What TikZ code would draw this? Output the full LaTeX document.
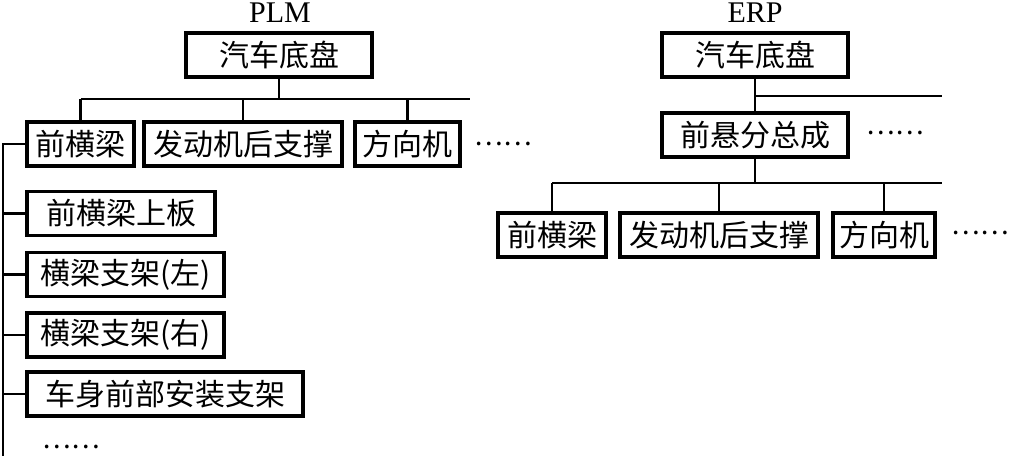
\documentclass[tikz,border=0pt]{standalone}
\usepackage{fontspec}
\setmainfont{Liberation Serif}
\newfontfamily\cjk{Noto Sans CJK SC}
\begin{document}
\begin{tikzpicture}[x=1pt,y=-1pt,
 bx/.style={draw, line width=3.4pt, inner sep=0pt, minimum height=44pt, font=\cjk\fontsize{30}{31}\selectfont},
 dots/.style={inner sep=0pt, font=\cjk\fontsize{27}{27}\selectfont},
 ttl/.style={inner sep=0pt, anchor=base, font=\fontsize{30}{30}\selectfont},
 ln/.style={line width=2.2pt}]
\fill[white] (0,0) rectangle (1009,456);
\useasboundingbox (0,0) rectangle (1009,456);
% PLM side
\node[ttl] (plm) at (280,22) {PLM};
\node[bx, minimum width=186pt] (pa) at (279,55) {汽车底盘};
\node[bx, minimum width=107pt] (p1) at (80.5,144) {前横梁};
\node[bx, minimum width=198pt] (p2) at (243,144) {发动机后支撑};
\node[bx, minimum width=105pt] (p3) at (407.5,144) {方向机};
\node[dots] (pd) at (503,144) {……};
\node[bx, minimum width=188pt] (c1) at (121,213.5) {前横梁上板};
\node[bx, minimum width=197pt] (c2) at (125.5,274.5) {横梁支架(左)};
\node[bx, minimum width=197pt] (c3) at (125.5,335) {横梁支架(右)};
\node[bx, minimum width=276pt] (c4) at (165,394) {车身前部安装支架};
\node[dots] (cd) at (71,447) {……};
\coordinate (ph) at (279,99);
\coordinate (pe) at (470,99);
\coordinate (lv) at (3,456);
\draw[ln] (pa.south) -- (ph);
\draw[ln] (p1.north |- ph) -- (pe);
\foreach \n in {p1,p2,p3} \draw[ln] (\n.north |- ph) -- (\n.north);
\draw[ln] (p1.west) -- (p1.west -| lv) -- (lv);
\foreach \n in {c1,c2,c3,c4} \draw[ln] (\n.west) -- (\n.west -| lv);
% ERP side
\node[ttl] (erp) at (755,22) {ERP};
\node[bx, minimum width=186pt] (ea) at (755,55) {汽车底盘};
\node[bx, minimum width=186pt] (eb) at (755,135) {前悬分总成};
\node[dots] (ed1) at (895,133) {……};
\node[bx, minimum width=108pt] (e1) at (552,235) {前横梁};
\node[bx, minimum width=198pt] (e2) at (719,235) {发动机后支撑};
\node[bx, minimum width=102pt] (e3) at (884,235) {方向机};
\node[dots] (ed2) at (980,233) {……};
\coordinate (eh) at (942,96);
\coordinate (ej) at (755,183);
\coordinate (ee) at (942,183);
\draw[ln] (ea.south) -- (eb.north);
\draw[ln] (ea.south |- eh) -- (eh);
\draw[ln] (eb.south) -- (ej);
\draw[ln] (e1.north |- ej) -- (ee);
\foreach \n in {e1,e2,e3} \draw[ln] (\n.north |- ej) -- (\n.north);
\end{tikzpicture}
\end{document}
